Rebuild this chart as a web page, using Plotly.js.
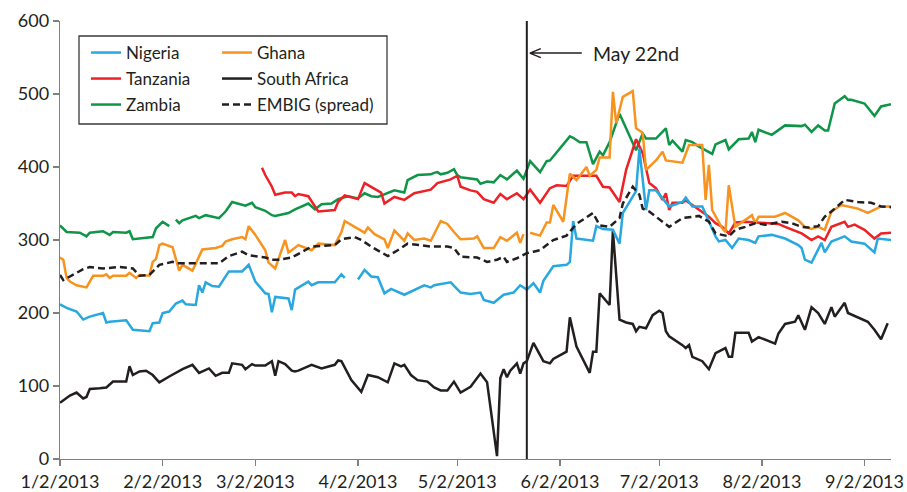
<!DOCTYPE html>
<html>
<head>
<meta charset="utf-8">
<script src="https://cdn.plot.ly/plotly-3.0.1.min.js"></script>
<style>html,body{margin:0;padding:0;background:#fff;}#chart{width:907px;height:492px;}</style>
</head>
<body>
<div id="chart"></div>
<script>
// ---------- DATA ----------
const tickDates = ['2013-01-02','2013-02-02','2013-03-02','2013-04-02','2013-05-02','2013-06-02','2013-07-02','2013-08-02','2013-09-02'];
const tickLabels = ['1/2/2013','2/2/2013','3/2/2013','4/2/2013','5/2/2013','6/2/2013','7/2/2013','8/2/2013','9/2/2013'];
const eventDate = '2013-05-23';
const eventLabel = 'May 22nd';

const nigeriaDates = ['2013-01-02','2013-01-04','2013-01-07','2013-01-09','2013-01-11','2013-01-15','2013-01-16','2013-01-17','2013-01-22','2013-01-24','2013-01-29','2013-01-30','2013-02-01','2013-02-02','2013-02-04','2013-02-06','2013-02-08','2013-02-09','2013-02-12','2013-02-13','2013-02-14','2013-02-15','2013-02-17','2013-02-19','2013-02-22','2013-02-26','2013-02-28','2013-03-02','2013-03-05','2013-03-06','2013-03-07','2013-03-08','2013-03-12','2013-03-13','2013-03-14','2013-03-18','2013-03-19','2013-03-21','2013-03-26','2013-03-28','2013-03-29','2013-03-31','2013-04-02','2013-04-04','2013-04-06','2013-04-08','2013-04-10','2013-04-12','2013-04-16','2013-04-18','2013-04-20','2013-04-22','2013-04-24','2013-04-25','2013-04-30','2013-05-03','2013-05-06','2013-05-09','2013-05-10','2013-05-13','2013-05-16','2013-05-19','2013-05-21','2013-05-23','2013-05-25','2013-05-27','2013-05-28','2013-05-31','2013-06-04','2013-06-05','2013-06-06','2013-06-07','2013-06-12','2013-06-13','2013-06-15','2013-06-18','2013-06-20','2013-06-21','2013-06-25','2013-06-26','2013-06-28','2013-06-29','2013-07-01','2013-07-05','2013-07-09','2013-07-10','2013-07-12','2013-07-15','2013-07-19','2013-07-20','2013-07-22','2013-07-24','2013-07-26','2013-07-29','2013-07-31','2013-08-01','2013-08-05','2013-08-09','2013-08-13','2013-08-14','2013-08-15','2013-08-17','2013-08-20','2013-08-21','2013-08-23','2013-08-27','2013-08-29','2013-09-02','2013-09-05','2013-09-06','2013-09-10'];
const nigeriaValues = [212,207,202,191,195,200,187,188,190,177,175,186,187,200,202,213,217,212,211,238,228,242,237,236,257,257,266,243,227,226,201,222,220,204,232,243,238,242,242,253,248,null,246,259,250,249,227,233,225,229,234,238,235,238,242,228,226,228,218,214,225,228,238,232,241,228,244,264,266,270,326,302,299,319,315,314,295,337,367,425,341,368,368,346,352,358,346,346,305,298,300,289,302,300,296,305,307,302,293,289,273,269,296,283,298,305,298,295,283,302,300];

const ghanaDates = ['2013-01-02','2013-01-03','2013-01-04','2013-01-05','2013-01-07','2013-01-10','2013-01-12','2013-01-15','2013-01-16','2013-01-17','2013-01-18','2013-01-22','2013-01-23','2013-01-25','2013-01-26','2013-01-29','2013-01-30','2013-01-31','2013-02-01','2013-02-02','2013-02-05','2013-02-07','2013-02-08','2013-02-11','2013-02-14','2013-02-18','2013-02-20','2013-02-21','2013-02-23','2013-02-26','2013-02-27','2013-02-28','2013-03-02','2013-03-05','2013-03-06','2013-03-08','2013-03-11','2013-03-12','2013-03-13','2013-03-15','2013-03-19','2013-03-21','2013-03-26','2013-03-27','2013-03-28','2013-03-29','2013-04-02','2013-04-04','2013-04-05','2013-04-07','2013-04-10','2013-04-11','2013-04-13','2013-04-16','2013-04-17','2013-04-19','2013-04-22','2013-04-24','2013-04-27','2013-04-29','2013-05-01','2013-05-03','2013-05-07','2013-05-08','2013-05-10','2013-05-13','2013-05-15','2013-05-17','2013-05-20','2013-05-21','2013-05-22','2013-05-23','2013-05-24','2013-05-27','2013-05-29','2013-05-30','2013-05-31','2013-06-03','2013-06-05','2013-06-07','2013-06-10','2013-06-11','2013-06-13','2013-06-14','2013-06-17','2013-06-18','2013-06-19','2013-06-21','2013-06-24','2013-06-25','2013-06-27','2013-06-28','2013-07-01','2013-07-03','2013-07-04','2013-07-09','2013-07-11','2013-07-15','2013-07-16','2013-07-17','2013-07-18','2013-07-21','2013-07-22','2013-07-23','2013-07-24','2013-07-25','2013-07-30','2013-07-31','2013-08-01','2013-08-06','2013-08-09','2013-08-13','2013-08-15','2013-08-17','2013-08-19','2013-08-21','2013-08-23','2013-08-26','2013-08-31','2013-09-03','2013-09-07','2013-09-10'];
const ghanaValues = [276,273,248,243,238,235,251,251,253,248,251,251,255,248,252,251,270,274,293,295,290,258,266,258,287,289,292,298,301,304,301,319,307,286,269,261,300,283,286,293,286,295,293,302,311,326,316,310,317,308,301,289,313,299,309,300,302,299,326,322,311,301,302,305,289,289,304,299,310,296,308,null,310,306,324,324,348,325,391,382,400,388,396,413,413,503,460,496,504,453,447,396,409,421,409,406,430,430,355,403,341,316,311,375,346,318,334,323,332,332,337,327,318,315,318,314,339,348,343,337,346,346];

const tanzaniaDates = ['2013-03-04','2013-03-05','2013-03-07','2013-03-08','2013-03-11','2013-03-13','2013-03-14','2013-03-15','2013-03-18','2013-03-20','2013-03-21','2013-03-26','2013-03-27','2013-03-29','2013-04-02','2013-04-04','2013-04-06','2013-04-08','2013-04-09','2013-04-10','2013-04-13','2013-04-16','2013-04-19','2013-04-24','2013-04-26','2013-04-30','2013-05-02','2013-05-03','2013-05-06','2013-05-08','2013-05-10','2013-05-13','2013-05-15','2013-05-17','2013-05-20','2013-05-22','2013-05-24','2013-05-27','2013-05-30','2013-06-01','2013-06-04','2013-06-06','2013-06-13','2013-06-15','2013-06-17','2013-06-20','2013-06-22','2013-06-25','2013-06-27','2013-06-29','2013-07-01','2013-07-03','2013-07-04','2013-07-05','2013-07-06','2013-07-09','2013-07-10','2013-07-12','2013-07-14','2013-07-17','2013-07-19','2013-07-21','2013-07-23','2013-07-25','2013-07-28','2013-08-03','2013-08-07','2013-08-09','2013-08-14','2013-08-17','2013-08-19','2013-08-21','2013-08-23','2013-08-27','2013-08-28','2013-08-30','2013-09-02','2013-09-05','2013-09-07','2013-09-10'];
const tanzaniaValues = [399,389,373,362,365,365,360,363,360,345,339,341,352,361,356,378,373,368,365,350,359,355,364,369,378,383,388,373,368,366,356,351,363,356,364,356,369,351,371,375,374,388,388,373,372,352,396,438,419,378,371,355,364,341,351,351,354,348,342,332,323,318,309,324,325,323,322,318,309,300,305,300,318,325,318,321,314,302,309,310];

const southAfricaDates = ['2013-01-02','2013-01-04','2013-01-05','2013-01-07','2013-01-09','2013-01-10','2013-01-11','2013-01-14','2013-01-16','2013-01-18','2013-01-22','2013-01-23','2013-01-24','2013-01-26','2013-01-28','2013-01-30','2013-02-01','2013-02-04','2013-02-06','2013-02-08','2013-02-11','2013-02-13','2013-02-16','2013-02-18','2013-02-20','2013-02-22','2013-02-23','2013-02-26','2013-02-27','2013-03-01','2013-03-02','2013-03-05','2013-03-07','2013-03-08','2013-03-09','2013-03-11','2013-03-13','2013-03-14','2013-03-15','2013-03-19','2013-03-22','2013-03-26','2013-03-27','2013-03-28','2013-03-31','2013-04-03','2013-04-05','2013-04-08','2013-04-11','2013-04-13','2013-04-15','2013-04-16','2013-04-18','2013-04-20','2013-04-23','2013-04-25','2013-04-27','2013-04-29','2013-05-01','2013-05-03','2013-05-06','2013-05-09','2013-05-11','2013-05-14','2013-05-15','2013-05-16','2013-05-17','2013-05-18','2013-05-20','2013-05-21','2013-05-22','2013-05-23','2013-05-25','2013-05-28','2013-05-30','2013-05-31','2013-06-04','2013-06-05','2013-06-07','2013-06-11','2013-06-12','2013-06-13','2013-06-14','2013-06-17','2013-06-18','2013-06-20','2013-06-22','2013-06-24','2013-06-25','2013-06-26','2013-06-28','2013-06-30','2013-07-02','2013-07-03','2013-07-04','2013-07-05','2013-07-09','2013-07-10','2013-07-11','2013-07-12','2013-07-15','2013-07-17','2013-07-19','2013-07-22','2013-07-23','2013-07-24','2013-07-25','2013-07-29','2013-07-30','2013-08-01','2013-08-06','2013-08-07','2013-08-09','2013-08-12','2013-08-13','2013-08-15','2013-08-17','2013-08-19','2013-08-21','2013-08-23','2013-08-24','2013-08-27','2013-08-28','2013-08-30','2013-09-03','2013-09-05','2013-09-07','2013-09-09'];
const southAfricaValues = [77,83,87,91,83,85,96,97,98,106,106,127,115,120,121,115,105,113,118,123,129,118,124,114,118,118,131,129,123,130,128,128,134,114,134,130,121,120,121,129,124,129,135,134,108,92,115,112,105,131,127,129,115,108,106,98,94,94,106,91,99,117,105,4,111,123,112,121,131,117,131,134,159,134,131,137,147,194,154,118,147,147,227,211,313,191,187,185,175,181,179,197,203,200,175,168,156,152,156,140,134,123,145,152,140,140,173,173,161,167,158,172,185,188,197,177,208,200,185,208,195,214,200,196,188,177,164,186];

const zambiaDates = ['2013-01-02','2013-01-04','2013-01-08','2013-01-10','2013-01-11','2013-01-15','2013-01-17','2013-01-18','2013-01-22','2013-01-23','2013-01-24','2013-01-30','2013-01-31','2013-02-02','2013-02-04','2013-02-05','2013-02-06','2013-02-07','2013-02-08','2013-02-12','2013-02-13','2013-02-15','2013-02-19','2013-02-21','2013-02-23','2013-02-25','2013-02-27','2013-03-01','2013-03-02','2013-03-05','2013-03-07','2013-03-08','2013-03-12','2013-03-14','2013-03-18','2013-03-20','2013-03-22','2013-03-25','2013-03-27','2013-03-30','2013-04-02','2013-04-04','2013-04-06','2013-04-08','2013-04-13','2013-04-16','2013-04-17','2013-04-20','2013-04-24','2013-04-25','2013-04-26','2013-04-27','2013-04-29','2013-05-01','2013-05-02','2013-05-03','2013-05-06','2013-05-08','2013-05-09','2013-05-11','2013-05-13','2013-05-15','2013-05-17','2013-05-20','2013-05-22','2013-05-24','2013-05-27','2013-05-29','2013-05-30','2013-06-05','2013-06-06','2013-06-08','2013-06-10','2013-06-12','2013-06-14','2013-06-15','2013-06-17','2013-06-20','2013-06-25','2013-06-27','2013-06-28','2013-07-01','2013-07-04','2013-07-05','2013-07-06','2013-07-09','2013-07-10','2013-07-12','2013-07-14','2013-07-16','2013-07-18','2013-07-19','2013-07-22','2013-07-23','2013-07-26','2013-07-29','2013-07-30','2013-07-31','2013-08-01','2013-08-05','2013-08-09','2013-08-14','2013-08-15','2013-08-17','2013-08-19','2013-08-21','2013-08-22','2013-08-24','2013-08-27','2013-08-28','2013-08-29','2013-09-02','2013-09-03','2013-09-05','2013-09-07','2013-09-10'];
const zambiaValues = [320,311,310,305,310,312,307,311,310,312,301,304,316,325,319,null,328,323,327,333,330,334,330,339,352,350,347,351,345,340,334,333,337,342,350,342,349,350,356,360,357,364,360,359,368,365,382,389,390,392,393,390,392,397,389,386,384,383,377,380,379,389,383,395,384,408,393,408,409,442,440,434,434,404,421,416,434,473,423,446,439,439,453,430,436,421,437,434,428,423,418,431,437,424,438,439,448,434,451,444,457,456,458,448,457,450,450,487,497,492,492,487,481,470,483,486];

const embigDates = ['2013-01-02','2013-01-03','2013-01-09','2013-01-11','2013-01-15','2013-01-20','2013-01-24','2013-01-26','2013-01-29','2013-01-30','2013-02-01','2013-02-05','2013-02-07','2013-02-13','2013-02-19','2013-02-22','2013-02-26','2013-02-28','2013-03-05','2013-03-07','2013-03-09','2013-03-13','2013-03-19','2013-03-26','2013-03-28','2013-04-01','2013-04-03','2013-04-06','2013-04-11','2013-04-14','2013-04-17','2013-04-21','2013-04-24','2013-04-29','2013-05-01','2013-05-03','2013-05-08','2013-05-11','2013-05-14','2013-05-16','2013-05-17','2013-05-20','2013-05-23','2013-05-25','2013-05-27','2013-05-29','2013-05-31','2013-06-04','2013-06-07','2013-06-12','2013-06-14','2013-06-17','2013-06-20','2013-06-21','2013-06-24','2013-06-26','2013-06-27','2013-06-29','2013-07-03','2013-07-05','2013-07-09','2013-07-14','2013-07-17','2013-07-19','2013-07-23','2013-07-25','2013-07-28','2013-07-31','2013-08-03','2013-08-08','2013-08-11','2013-08-14','2013-08-16','2013-08-19','2013-08-21','2013-08-23','2013-08-27','2013-08-31','2013-09-04','2013-09-07','2013-09-10'];
const embigValues = [252,245,260,263,261,263,261,251,252,257,266,270,268,268,268,278,284,279,276,273,273,276,291,293,301,304,300,291,278,286,295,293,291,291,289,277,276,270,273,277,270,275,282,284,286,293,300,306,322,337,320,318,330,350,373,362,343,339,325,318,330,333,325,309,305,314,318,323,321,325,323,318,317,319,332,339,355,352,351,346,345];

const seriesNames = ['Nigeria','Tanzania','Zambia','Ghana','South Africa','EMBIG (spread)'];
const seriesColors = ['#29a8e0','#ec2227','#0f9548','#f7931e','#231f20','#231f20'];

// ---------- CHART ----------
const fontFam = 'Lato, "Open Sans", sans-serif';
const txt = '#231f20';
function tr(x, y, i, legendId, dash) {
  return {type:'scatter', mode:'lines', x:x, y:y, name:seriesNames[i], legend:legendId,
    connectgaps:false, line:{color:seriesColors[i], width:2.5, dash:dash||'solid'}, hoverinfo:'x+y+name'};
}
const data = [
  tr(southAfricaDates, southAfricaValues, 4, 'legend5'),
  tr(zambiaDates, zambiaValues, 2, 'legend3'),
  tr(tanzaniaDates, tanzaniaValues, 1, 'legend2'),
  tr(nigeriaDates, nigeriaValues, 0, 'legend'),
  tr(ghanaDates, ghanaValues, 3, 'legend4'),
  tr(embigDates, embigValues, 5, 'legend6', '7px,4px')
];

const PL = 60, PR = 16, PT = 21, PB = 33, W = 907, H = 492;
const pw = W - PL - PR, ph = H - PT - PB;
const px2x = p => (p - PL) / pw;
const px2y = p => 1 - (p - PT) / ph;
function leg(xpx, ypx) {
  return {x:px2x(xpx), y:px2y(ypx), xanchor:'left', yanchor:'middle', bgcolor:'rgba(0,0,0,0)',
    borderwidth:0, font:{family:fontFam, size:17, color:txt}, itemclick:false};
}
const axisCommon = {showline:true, linecolor:'#808080', linewidth:1.3, ticks:'outside', ticklen:6,
  tickwidth:1.3, tickcolor:'#808080', showgrid:false, zeroline:false,
  tickfont:{family:fontFam, size:18, color:txt}};

const layout = {
  width:W, height:H, margin:{l:PL, r:PR, t:PT, b:PB, pad:0},
  paper_bgcolor:'#fff', plot_bgcolor:'#fff', showlegend:true,
  font:{family:fontFam, color:txt},
  xaxis:Object.assign({}, axisCommon, {type:'date', range:['2013-01-02','2013-09-10'],
    tickmode:'array', tickvals:tickDates, ticktext:tickLabels}),
  yaxis:Object.assign({}, axisCommon, {range:[0,600], dtick:100, tick0:0}),
  legend:leg(86,53), legend2:leg(86,79), legend3:leg(86,105),
  legend4:leg(217,53), legend5:leg(217,79), legend6:leg(217,105),
  shapes:[
    {type:'rect', xref:'paper', yref:'paper', x0:px2x(79), x1:px2x(387), y0:px2y(124), y1:px2y(36),
      line:{color:'#3a3a3a', width:1.3}, fillcolor:'rgba(0,0,0,0)'},
    {type:'line', xref:'x', yref:'y', x0:eventDate, x1:eventDate, y0:0, y1:600,
      line:{color:txt, width:2}},
    {type:'path', xref:'x', yref:'y', xsizemode:'pixel', ysizemode:'pixel', xanchor:eventDate, yanchor:556,
      path:'M 3,0 L 55,0 M 3,0 L 14,4.5 M 3,0 L 14,-4.5', line:{color:txt, width:1.5}}
  ],
  annotations:[
    {xref:'x', yref:'y', x:eventDate, y:556, xshift:64, xanchor:'left', yanchor:'middle',
      text:eventLabel, showarrow:false, font:{family:fontFam, size:19.5, color:txt}}
  ]
};
Plotly.newPlot('chart', data, layout, {displayModeBar:false, staticPlot:true});
</script>
</body>
</html>
